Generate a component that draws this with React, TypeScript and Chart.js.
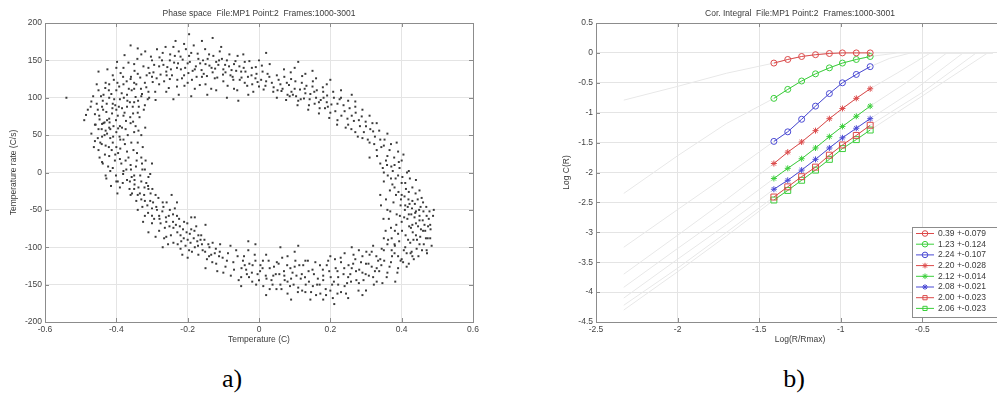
import React, { useEffect, useRef } from 'react';
import { Chart, registerables } from 'chart.js';
Chart.register(...registerables);

const FONT = '"Liberation Sans", Arial, Helvetica, sans-serif';

// ---------------- a) Phase space ----------------
const PHASE_TITLE = 'Phase space  File:MP1 Point:2  Frames:1000-3001';
const PHASE_X_LABEL = 'Temperature (C)';
const PHASE_Y_LABEL = 'Temperature rate (C/s)';
const PHASE_X_TICKS = [-0.6, -0.4, -0.2, 0, 0.2, 0.4, 0.6];
const PHASE_Y_TICKS = [-200, -150, -100, -50, 0, 50, 100, 150, 200];

const RING_UPPER_LEFT = [
  [-0.47,95],[-0.46,78],[-0.45,110],[-0.44,88],[-0.44,65],[-0.43,120],[-0.42,100],[-0.42,72],[-0.41,92],[-0.41,130],
  [-0.40,84],[-0.40,110],[-0.39,62],[-0.39,98],[-0.38,140],[-0.38,118],[-0.38,76],[-0.37,104],[-0.37,88],[-0.36,125],
  [-0.36,66],[-0.35,112],[-0.35,145],[-0.35,94],[-0.34,80],[-0.34,132],[-0.33,102],[-0.33,158],[-0.32,120],[-0.32,90],
  [-0.31,140],[-0.31,108],[-0.30,150],[-0.30,128],[-0.29,97],[-0.48,84],[-0.49,70],[-0.45,135],[-0.43,56],[-0.36,170],
  [-0.34,166],[-0.40,140],[-0.42,118],[-0.54,100],
  [-0.465,102],[-0.452,84],[-0.447,71],[-0.438,96],[-0.431,113],[-0.428,81],[-0.419,67],[-0.414,105],[-0.407,124],[-0.403,90],
  [-0.396,76],[-0.392,115],[-0.388,133],[-0.384,86],[-0.379,100],[-0.373,69],[-0.371,122],[-0.366,147],[-0.362,94],[-0.357,110],
  [-0.353,79],[-0.349,136],[-0.344,118],[-0.341,152],[-0.337,88],[-0.333,127],[-0.328,105],[-0.324,142],[-0.319,162],[-0.316,114],
  [-0.312,98],[-0.307,133],[-0.303,155],[-0.298,121],[-0.294,144],[-0.291,108],[-0.286,165],[-0.455,118],[-0.472,88],[-0.485,77],
  [-0.441,58],[-0.425,138],[-0.398,148],[-0.377,157],[-0.359,128],[-0.346,101],[-0.395,59],[-0.412,79],[-0.436,104],[-0.46,64],
];
const RING_TOP = [
  [-0.28,142],[-0.28,118],[-0.27,160],[-0.26,135],[-0.26,108],[-0.25,150],[-0.25,125],[-0.24,168],[-0.23,140],[-0.23,115],
  [-0.22,155],[-0.21,130],[-0.21,172],[-0.20,146],[-0.20,120],[-0.19,160],[-0.18,138],[-0.18,112],[-0.17,152],[-0.16,128],
  [-0.16,176],[-0.15,145],[-0.15,118],[-0.14,158],[-0.13,134],[-0.12,148],[-0.12,110],[-0.11,162],[-0.10,138],[-0.10,122],
  [-0.09,150],[-0.08,130],[-0.07,145],[-0.07,112],[-0.06,156],[-0.05,135],[-0.04,120],[-0.04,148],[-0.03,104],[-0.02,140],
  [-0.01,126],[0.00,150],[0.00,115],[0.01,135],[0.02,122],[0.03,145],[0.04,108],[0.05,130],[-0.19,102],[-0.24,98],
  [-0.09,100],[-0.13,180],[0.02,160],
  [-0.276,131],[-0.272,150],[-0.266,122],[-0.262,168],[-0.257,141],[-0.253,113],[-0.249,158],[-0.244,130],[-0.238,147],[-0.234,176],
  [-0.229,124],[-0.225,162],[-0.219,138],[-0.214,151],[-0.209,116],[-0.205,165],[-0.198,133],[-0.194,148],[-0.188,124],[-0.183,170],
  [-0.177,142],[-0.172,159],[-0.166,117],[-0.161,137],[-0.157,150],[-0.151,165],[-0.146,129],[-0.139,143],[-0.134,112],[-0.128,156],
  [-0.123,139],[-0.117,127],[-0.112,150],[-0.106,168],[-0.101,131],[-0.095,144],[-0.088,116],[-0.083,158],[-0.077,137],[-0.072,124],
  [-0.066,149],[-0.061,110],[-0.055,142],[-0.049,127],[-0.044,158],[-0.038,135],[-0.033,116],[-0.027,149],[-0.021,130],[-0.016,108],
  [-0.009,141],[-0.004,121],[0.008,143],[0.013,111],[0.024,132],[0.036,120],[-0.196,185],[-0.145,104],[-0.058,96],[-0.225,104],
];
const RING_UPPER_RIGHT = [
  [0.06,118],[0.07,138],[0.08,104],[0.09,125],[0.10,112],[0.10,140],[0.11,96],[0.12,120],[0.13,106],[0.13,132],
  [0.14,90],[0.15,115],[0.16,100],[0.16,126],[0.17,86],[0.18,108],[0.19,94],[0.19,118],[0.20,80],[0.21,100],
  [0.22,70],[0.22,92],[0.23,110],[0.24,82],[0.25,64],[0.25,96],[0.26,76],[0.27,88],[0.27,54],[0.28,70],
  [0.29,84],[0.29,46],[0.30,62],[0.31,76],[0.31,40],[0.32,55],[0.11,148],[0.05,100],[0.20,124],[0.26,104],
  [0.055,124],[0.063,109],[0.071,128],[0.076,97],[0.084,117],[0.089,134],[0.095,104],[0.102,122],[0.108,90],[0.115,111],
  [0.121,129],[0.126,99],[0.133,116],[0.138,84],[0.144,105],[0.151,122],[0.156,92],[0.162,110],[0.168,79],[0.173,97],
  [0.179,114],[0.185,86],[0.191,103],[0.197,73],[0.203,91],[0.208,108],[0.214,82],[0.219,64],[0.226,98],[0.231,76],
  [0.237,90],[0.243,60],[0.248,72],[0.254,86],[0.259,58],[0.266,69],[0.271,80],[0.277,48],[0.283,62],[0.288,75],
  [0.294,54],[0.299,68],[0.305,44],[0.312,58],[0.318,66],[0.323,38],[0.15,136],[0.23,100],[0.086,102],[0.27,95],
];
const RING_RIGHT = [
  [0.33,30],[0.33,66],[0.34,44],[0.34,12],[0.35,36],[0.35,0],[0.36,52],[0.36,22],[0.37,-8],[0.37,38],
  [0.38,10],[0.38,-20],[0.39,28],[0.39,-4],[0.40,-30],[0.40,16],[0.41,-14],[0.41,-44],[0.42,2],[0.42,-56],
  [0.42,-26],[0.43,-70],[0.43,-38],[0.44,-10],[0.44,-84],[0.44,-52],[0.45,-64],[0.45,-96],[0.46,-40],[0.46,-78],
  [0.47,-104],[0.47,-58],[0.48,-88],[0.48,-70],[0.49,-50],[0.40,-66],[0.39,-82],[0.38,-96],[0.41,-100],[0.43,-112],
  [0.36,-50],[0.37,-74],[0.35,-88],[0.34,-30],[0.31,20],[0.45,-24],
  [0.325,48],[0.331,22],[0.337,56],[0.343,34],[0.347,6],[0.352,44],[0.356,16],[0.361,-4],[0.366,30],[0.371,8],
  [0.374,-16],[0.379,20],[0.383,-8],[0.386,40],[0.391,-26],[0.394,6],[0.398,-36],[0.402,-6],[0.405,24],[0.409,-50],
  [0.412,-22],[0.416,-62],[0.419,-36],[0.423,-8],[0.426,-74],[0.429,-48],[0.433,-90],[0.436,-60],[0.439,-28],[0.442,-102],
  [0.446,-72],[0.449,-50],[0.452,-86],[0.456,-34],[0.459,-64],[0.462,-96],[0.466,-78],[0.469,-46],[0.473,-88],[0.476,-62],
  [0.481,-76],[0.484,-98],[0.488,-58],[0.395,-58],[0.385,-70],[0.372,-88],[0.364,-62],[0.355,-78],[0.418,-90],[0.428,-106],
];
const RING_LOWER_RIGHT = [
  [0.42,-122],[0.40,-116],[0.39,-128],[0.38,-108],[0.37,-120],[0.36,-134],[0.35,-104],[0.34,-116],[0.33,-128],[0.32,-140],
  [0.31,-110],[0.30,-122],[0.29,-134],[0.28,-148],[0.27,-116],[0.26,-128],[0.25,-140],[0.24,-152],[0.23,-120],[0.22,-132],
  [0.21,-146],[0.20,-158],[0.19,-124],[0.18,-138],[0.17,-150],[0.16,-164],[0.15,-130],[0.32,-98],[0.28,-104],[0.24,-108],
  [0.20,-112],[0.36,-96],[0.22,-162],[0.18,-170],[0.30,-158],[0.33,-146],
  [0.425,-108],[0.414,-126],[0.406,-104],[0.397,-118],[0.388,-134],[0.381,-98],[0.373,-112],[0.366,-126],[0.358,-140],[0.351,-118],
  [0.344,-102],[0.337,-132],[0.329,-112],[0.322,-150],[0.316,-126],[0.308,-138],[0.301,-106],[0.293,-144],[0.286,-120],[0.279,-158],
  [0.272,-132],[0.265,-110],[0.258,-146],[0.251,-124],[0.244,-162],[0.237,-136],[0.229,-114],[0.222,-150],[0.215,-128],[0.207,-168],
  [0.201,-140],[0.194,-118],[0.187,-156],[0.179,-130],[0.172,-162],[0.165,-142],[0.158,-120],[0.151,-152],[0.144,-170],[0.211,-176],
  [0.25,-168],[0.29,-164],[0.346,-148],[0.382,-146],[0.26,-100],
];
const RING_BOTTOM = [
  [0.14,-146],[0.13,-118],[0.12,-136],[0.11,-154],[0.10,-126],[0.09,-142],[0.08,-112],[0.07,-132],[0.06,-150],[0.05,-120],
  [0.04,-138],[0.03,-156],[0.02,-110],[0.01,-128],[0.00,-144],[-0.01,-118],[-0.02,-134],[-0.03,-104],[-0.04,-124],[-0.05,-140],
  [-0.06,-112],[-0.07,-130],[-0.08,-98],[-0.09,-118],[-0.10,-134],[-0.11,-106],[-0.12,-122],[-0.13,-94],[-0.14,-112],[-0.15,-128],
  [0.06,-100],[-0.01,-96],[0.10,-106],[0.13,-160],[0.08,-162],[-0.05,-152],
  [0.139,-132],[0.131,-150],[0.124,-124],[0.117,-142],[0.109,-160],[0.102,-118],[0.094,-134],[0.087,-152],[0.079,-124],[0.072,-144],
  [0.065,-114],[0.057,-136],[0.049,-156],[0.042,-126],[0.035,-144],[0.027,-118],[0.019,-138],[0.012,-152],[0.004,-124],[-0.004,-136],
  [-0.012,-110],[-0.019,-146],[-0.027,-122],[-0.034,-136],[-0.042,-112],[-0.049,-128],[-0.057,-144],[-0.064,-104],[-0.072,-120],[-0.079,-138],
  [-0.087,-108],[-0.094,-126],[-0.102,-114],[-0.109,-96],[-0.117,-132],[-0.124,-108],[-0.131,-120],[-0.139,-100],[-0.146,-116],[-0.153,-90],
  [0.09,-170],[0.02,-164],[-0.03,-92],[0.11,-98],
];
const RING_LOWER_LEFT = [
  [-0.16,-96],[-0.17,-84],[-0.17,-110],[-0.18,-100],[-0.19,-76],[-0.20,-90],[-0.20,-114],[-0.21,-66],[-0.22,-84],[-0.22,-102],
  [-0.23,-58],[-0.24,-74],[-0.24,-94],[-0.25,-50],[-0.26,-66],[-0.26,-86],[-0.27,-40],[-0.28,-58],[-0.28,-78],[-0.29,-30],
  [-0.30,-48],[-0.30,-68],[-0.31,-22],[-0.32,-38],[-0.32,-58],[-0.33,-12],[-0.34,-30],[-0.34,-50],[-0.35,-4],[-0.35,-22],
  [-0.19,-60],[-0.23,-40],[-0.27,-100],[-0.31,-80],[-0.15,-70],
  [-0.158,-104],[-0.164,-90],[-0.171,-98],[-0.176,-72],[-0.183,-88],[-0.188,-106],[-0.194,-82],[-0.201,-68],[-0.206,-98],[-0.213,-76],
  [-0.218,-92],[-0.224,-62],[-0.229,-80],[-0.236,-48],[-0.241,-66],[-0.247,-84],[-0.253,-58],[-0.259,-40],[-0.264,-74],[-0.271,-52],
  [-0.276,-68],[-0.282,-34],[-0.288,-46],[-0.294,-62],[-0.299,-22],[-0.305,-38],[-0.311,-54],[-0.316,-14],[-0.322,-30],[-0.327,-46],
  [-0.333,-4],[-0.338,-20],[-0.344,-38],[-0.349,-10],[-0.356,-28],[-0.362,-12],[-0.215,-110],[-0.255,-96],[-0.29,-86],[-0.325,-66],
  [-0.18,-60],[-0.245,-30],
];
const RING_LEFT = [
  [-0.36,10],[-0.37,-10],[-0.37,28],[-0.38,2],[-0.38,44],[-0.39,18],[-0.39,-20],[-0.40,34],[-0.40,54],[-0.41,6],
  [-0.41,40],[-0.42,22],[-0.42,60],[-0.43,36],[-0.43,-4],[-0.44,48],[-0.44,14],[-0.45,30],[-0.45,58],[-0.46,42],
  [-0.33,20],[-0.34,40],[-0.32,4],[-0.35,54],[-0.36,-30],[-0.31,-6],[-0.30,12],[-0.47,52],[-0.40,-12],[-0.33,50],
  [-0.366,20],[-0.372,4],[-0.376,38],[-0.382,-14],[-0.386,12],[-0.391,48],[-0.395,26],[-0.401,-4],[-0.404,16],[-0.408,62],
  [-0.413,30],[-0.417,46],[-0.423,8],[-0.426,52],[-0.432,24],[-0.436,66],[-0.441,38],[-0.447,20],[-0.452,46],[-0.458,64],
  [-0.463,34],[-0.345,8],[-0.352,30],[-0.357,-6],[-0.338,56],[-0.326,34],[-0.318,16],[-0.384,60],[-0.415,-18],[-0.426,70],
  [-0.397,-28],[-0.353,68],
];
const RING_DENSE_LEFT = [
  [-0.455,92],[-0.448,76],[-0.443,102],[-0.437,84],[-0.433,67],[-0.427,92],[-0.421,110],[-0.417,58],[-0.411,86],[-0.406,98],
  [-0.401,70],[-0.397,120],[-0.393,88],[-0.389,44],[-0.385,106],[-0.381,128],[-0.377,80],[-0.374,58],[-0.369,96],[-0.365,112],
  [-0.361,74],[-0.358,40],[-0.354,88],[-0.35,120],[-0.346,62],[-0.342,26],[-0.339,96],[-0.335,74],[-0.331,112],[-0.327,4],
  [-0.323,84],[-0.319,60],[-0.315,130],[-0.311,-18],[-0.308,100],[-0.305,-2],[-0.445,40],[-0.438,12],[-0.433,50],[-0.428,-8],
  [-0.421,34],[-0.417,2],[-0.409,48],[-0.403,24],[-0.396,-12],[-0.389,32],[-0.381,-2],[-0.374,16],[-0.368,50],[-0.363,-22],
  [-0.359,4],[-0.349,-16],[-0.343,16],[-0.334,-28],[-0.328,12],
];
const RING_DENSE_RIGHT = [
  [0.342,-44],[0.349,-62],[0.356,-36],[0.362,-90],[0.368,-52],[0.372,-104],[0.377,-40],[0.381,-78],[0.386,-56],[0.39,-112],
  [0.393,-92],[0.397,-44],[0.401,-78],[0.404,-120],[0.407,-60],[0.411,-84],[0.414,-108],[0.417,-46],[0.421,-72],[0.424,-94],
  [0.427,-56],[0.431,-80],[0.434,-116],[0.437,-42],[0.44,-68],[0.443,-90],[0.447,-112],[0.45,-58],[0.454,-76],[0.457,-104],
  [0.461,-52],[0.464,-70],[0.468,-88],[0.471,-108],[0.474,-72],[0.478,-52],[0.35,-12],[0.359,10],[0.367,-24],[0.375,2],
  [0.384,-30],[0.392,14],[0.4,-14],[0.408,-32],[0.415,0],[0.422,-42],[0.43,-20],[0.438,-54],[0.445,-36],[0.453,-46],
];
const RING_DENSE_BOTTOM = [
  [-0.045,-118],[-0.036,-130],[-0.028,-140],[-0.018,-124],[-0.008,-150],[0.003,-132],[0.011,-118],[0.021,-142],[0.03,-128],[0.038,-150],
  [0.047,-136],[0.055,-122],[0.063,-156],[0.071,-138],[0.08,-146],[0.088,-128],[0.097,-150],[0.105,-138],[0.113,-124],[0.121,-158],
  [0.129,-140],[0.137,-118],[0.146,-160],[0.154,-136],[0.163,-150],[0.171,-124],[0.18,-144],[0.188,-164],[0.197,-132],[0.205,-150],
  [0.213,-116],[0.222,-140],[0.23,-160],[0.239,-128],[0.247,-148],[0.256,-136],[0.264,-122],[0.273,-144],[0.281,-130],[0.29,-112],
  [0.299,-136],[0.307,-122],[0.316,-106],[0.325,-132],[0.334,-118],[0.343,-124],
];
const RING_DENSE_TOP = [
  [-0.296,134],[-0.287,126],[-0.279,154],[-0.268,144],[-0.259,130],[-0.247,138],[-0.236,156],[-0.227,146],[-0.216,126],[-0.207,140],
  [-0.196,156],[-0.186,136],[-0.175,128],[-0.165,146],[-0.155,132],[-0.144,152],[-0.133,140],[-0.124,126],[-0.114,144],[-0.104,152],
  [-0.094,134],[-0.084,142],[-0.074,128],[-0.064,136],[-0.054,124],[-0.043,140],[-0.031,128],[-0.019,118],[-0.007,132],[0.006,124],
  [0.018,116],[0.029,128],[0.041,114],[0.052,110],[0.066,112],[0.078,120],[0.091,108],[0.104,102],[0.117,98],[0.128,112],
  [0.142,98],[0.155,108],[0.168,94],[0.181,100],[0.193,88],
];
const RING_DENSE_LOWER_LEFT = [
  [-0.112,-112],[-0.121,-102],[-0.134,-110],[-0.142,-96],[-0.151,-106],[-0.162,-84],[-0.173,-92],[-0.181,-78],[-0.192,-94],[-0.203,-80],
  [-0.211,-88],[-0.222,-72],[-0.233,-70],[-0.241,-56],[-0.251,-72],[-0.261,-60],[-0.268,-46],[-0.279,-62],[-0.286,-50],[-0.297,-40],
  [-0.304,-28],[-0.313,-44],[-0.321,-20],[-0.33,-36],[-0.228,-96],[-0.196,-104],[-0.266,-88],[-0.3,-58],
];

// ---------------- b) Correlation integral ----------------
const COR_TITLE = 'Cor. Integral  File:MP1 Point:2  Frames:1000-3001';
const COR_X_LABEL = 'Log(R/Rmax)';
const COR_Y_LABEL = 'Log C(R)';
const COR_X_TICKS = [-2.5, -2, -1.5, -1, -0.5, 0];
const COR_Y_TICKS = [-4.5, -4, -3.5, -3, -2.5, -2, -1.5, -1, -0.5, 0, 0.5];

const FIT_X = [-1.41, -1.325, -1.24, -1.155, -1.07, -0.99, -0.905, -0.82];
const FIT_Y1 = [-0.17, -0.11, -0.06, -0.03, -0.01, 0, 0, 0];
const FIT_Y2 = [-0.76, -0.61, -0.47, -0.35, -0.25, -0.17, -0.11, -0.06];
const FIT_Y3 = [-1.48, -1.32, -1.11, -0.89, -0.68, -0.50, -0.36, -0.23];
const FIT_Y4 = [-1.85, -1.66, -1.49, -1.30, -1.10, -0.93, -0.76, -0.60];
const FIT_Y5 = [-2.10, -1.93, -1.77, -1.59, -1.40, -1.23, -1.06, -0.89];
const FIT_Y6 = [-2.28, -2.13, -1.96, -1.78, -1.59, -1.42, -1.26, -1.10];
const FIT_Y7 = [-2.41, -2.24, -2.07, -1.91, -1.71, -1.54, -1.38, -1.21];
const FIT_Y8 = [-2.46, -2.30, -2.13, -1.96, -1.78, -1.60, -1.45, -1.29];
const FIT_LABELS = [
  '0.39 +-0.079', '1.23 +-0.124', '2.24 +-0.107', '2.20 +-0.028',
  '2.12 +-0.014', '2.08 +-0.021', '2.00 +-0.023', '2.06 +-0.023',
];

// full curves (grey) outside the fitted range
const LOW_X = [-2.33, -2.0, -1.7];
const LOW_Y1 = [-0.79, -0.56, -0.34];
const LOW_Y2 = [-2.35, -1.72, -1.18];
const LOW_Y3 = [-3.25, -2.62, -2.05];
const LOW_Y4 = [-3.70, -3.05, -2.45];
const LOW_Y5 = [-3.92, -3.27, -2.69];
const LOW_Y6 = [-4.10, -3.45, -2.87];
const LOW_Y7 = [-4.22, -3.60, -3.00];
const LOW_Y8 = [-4.30, -3.66, -3.06];
const HIGH_1 = [[-0.07, 0]];
const HIGH_2 = [[-0.65, 0], [-0.07, 0]];
const HIGH_3 = [[-0.7, -0.09], [-0.57, 0], [-0.07, 0]];
const HIGH_4 = [[-0.65, -0.33], [-0.45, 0], [-0.07, 0]];
const HIGH_5 = [[-0.6, -0.5], [-0.35, 0], [-0.07, 0]];
const HIGH_6 = [[-0.55, -0.62], [-0.25, 0], [-0.07, 0]];
const HIGH_7 = [[-0.5, -0.66], [-0.17, 0], [-0.07, 0]];
const HIGH_8 = [[-0.5, -0.72], [-0.10, 0], [-0.07, 0]];

// styles
const SERIES_COLORS = ['#dc4a4a', '#3ccf3c', '#4a4ad4', '#dc4a4a', '#3ccf3c', '#4a4ad4', '#dc4a4a', '#3ccf3c'];
const SERIES_MARKERS = ['circle', 'circle', 'circle', 'star', 'star', 'star', 'rect', 'rect'];
const GREY_CURVE = '#e8e8e8';

const fmt = (v: number) => String(Math.round(v * 100) / 100);

function drawMarker(ctx: CanvasRenderingContext2D, style: string, x: number, y: number, r: number) {
  ctx.beginPath();
  if (style === 'circle') {
    ctx.arc(x, y, r, 0, Math.PI * 2);
  } else if (style === 'rect') {
    ctx.rect(x - r * 0.75, y - r * 0.75, r * 1.5, r * 1.5);
  } else {
    for (let k = 0; k < 4; k++) {
      const a = (k * Math.PI) / 4;
      ctx.moveTo(x - Math.cos(a) * r, y - Math.sin(a) * r);
      ctx.lineTo(x + Math.cos(a) * r, y + Math.sin(a) * r);
    }
  }
  ctx.stroke();
}

const framePlugin = {
  id: 'frame',
  afterDraw(chart: any, _args: any, o: any) {
    const { ctx, chartArea: a } = chart;
    ctx.save();
    ctx.strokeStyle = '#8c8c8c';
    ctx.lineWidth = 1;
    ctx.strokeRect(Math.round(a.left) + 0.5, Math.round(a.top) + 0.5, Math.round(a.right - a.left), Math.round(a.bottom - a.top));
    const xs = chart.scales.x, ys = chart.scales.y;
    ctx.beginPath();
    xs.ticks.forEach((t: any) => {
      const px = Math.round(xs.getPixelForValue(t.value)) + 0.5;
      ctx.moveTo(px, a.bottom); ctx.lineTo(px, a.bottom - 4);
      ctx.moveTo(px, a.top); ctx.lineTo(px, a.top + 4);
    });
    ys.ticks.forEach((t: any) => {
      const py = Math.round(ys.getPixelForValue(t.value)) + 0.5;
      ctx.moveTo(a.left, py); ctx.lineTo(a.left + 4, py);
      ctx.moveTo(a.right, py); ctx.lineTo(a.right - 4, py);
    });
    ctx.stroke();
    ctx.fillStyle = '#3a3a3a';
    ctx.font = `8.5px ${FONT}`;
    ctx.textAlign = 'center';
    ctx.textBaseline = 'middle';
    const cx = (a.left + a.right) / 2;
    ctx.fillText(o.title, cx, a.top - 9);
    ctx.fillText(o.xTitle, cx, a.bottom + 18);
    ctx.save();
    ctx.translate(o.yTitleX, (a.top + a.bottom) / 2);
    ctx.rotate(-Math.PI / 2);
    ctx.fillText(o.yTitle, 0, 0);
    ctx.restore();
    if (o.legend) {
      const L = o.legend;
      ctx.fillStyle = '#fff';
      ctx.fillRect(L.x, L.y, L.w, L.h);
      ctx.strokeStyle = '#8c8c8c';
      ctx.strokeRect(L.x + 0.5, L.y + 0.5, L.w, L.h);
      ctx.textAlign = 'left';
      L.labels.forEach((lab: string, i: number) => {
        const y = L.y + 6.5 + i * 10.7;
        ctx.strokeStyle = L.colors[i];
        ctx.lineWidth = 1;
        ctx.beginPath();
        ctx.moveTo(L.x + 4, y); ctx.lineTo(L.x + 22, y);
        ctx.stroke();
        drawMarker(ctx, L.markers[i], L.x + 13, y, 2.8);
        ctx.fillStyle = '#3a3a3a';
        ctx.fillText(lab, L.x + 26, y);
      });
    }
    ctx.restore();
  },
};

function axis(min: number, max: number, ticks: number[], size: number, isX: boolean) {
  return {
    type: 'linear',
    min, max,
    afterBuildTicks: (s: any) => { s.ticks = ticks.map((v) => ({ value: v })); },
    afterFit: (s: any) => { if (isX) s.height = size; else s.width = size; },
    grid: { color: '#e4e4e4', lineWidth: 1, drawTicks: false },
    border: { display: false },
    ticks: {
      padding: 3,
      color: '#444',
      font: { family: FONT, size: 8.5 },
      callback: (v: number) => fmt(v),
      maxRotation: 0,
      autoSkip: false,
    },
  };
}

export default function App() {
  const leftRef = useRef<HTMLCanvasElement>(null);
  const rightRef = useRef<HTMLCanvasElement>(null);

  useEffect(() => {
    const phase = [
      ...RING_UPPER_LEFT, ...RING_TOP, ...RING_UPPER_RIGHT, ...RING_RIGHT,
      ...RING_LOWER_RIGHT, ...RING_BOTTOM, ...RING_LOWER_LEFT, ...RING_LEFT,
      ...RING_DENSE_LEFT, ...RING_DENSE_RIGHT, ...RING_DENSE_BOTTOM, ...RING_DENSE_TOP, ...RING_DENSE_LOWER_LEFT,
    ].map(([x, y]) => ({ x, y }));

    const c1 = new Chart(leftRef.current!, {
      type: 'scatter',
      data: {
        datasets: [{
          data: phase,
          pointStyle: 'rect',
          pointRadius: 1.4,
          pointBackgroundColor: '#3a3a3a',
          pointBorderWidth: 0,
        }],
      },
      options: {
        animation: false,
        responsive: false,
        maintainAspectRatio: false,
        layout: { padding: { left: 0, top: 23, right: 24, bottom: 0 } },
        plugins: {
          legend: { display: false },
          tooltip: { enabled: false },
          frame: { title: PHASE_TITLE, xTitle: PHASE_X_LABEL, yTitle: PHASE_Y_LABEL, yTitleX: 14 },
        } as any,
        scales: {
          x: axis(-0.6, 0.6, PHASE_X_TICKS, 38, true),
          y: axis(-200, 200, PHASE_Y_TICKS, 45, false),
        } as any,
      },
      plugins: [framePlugin],
    });

    const fits = [FIT_Y1, FIT_Y2, FIT_Y3, FIT_Y4, FIT_Y5, FIT_Y6, FIT_Y7, FIT_Y8];
    const lows = [LOW_Y1, LOW_Y2, LOW_Y3, LOW_Y4, LOW_Y5, LOW_Y6, LOW_Y7, LOW_Y8];
    const highs = [HIGH_1, HIGH_2, HIGH_3, HIGH_4, HIGH_5, HIGH_6, HIGH_7, HIGH_8];

    const colored = fits.map((ys, i) => ({
      data: FIT_X.map((x, k) => ({ x, y: ys[k] })),
      showLine: true,
      borderColor: SERIES_COLORS[i],
      borderWidth: 1,
      pointStyle: SERIES_MARKERS[i],
      pointRadius: SERIES_MARKERS[i] === 'rect' ? 4.2 : 3,
      pointBorderColor: SERIES_COLORS[i],
      pointBackgroundColor: 'rgba(255,255,255,0)',
      pointBorderWidth: 1,
      order: 0,
    }));
    const greys = fits.map((ys, i) => ({
      data: [
        ...LOW_X.map((x, k) => ({ x, y: lows[i][k] })),
        ...FIT_X.map((x, k) => ({ x, y: ys[k] })),
        ...highs[i].map(([x, y]) => ({ x, y })),
      ],
      showLine: true,
      borderColor: GREY_CURVE,
      borderWidth: 1,
      pointRadius: 0,
      order: 1,
    }));

    const c2 = new Chart(rightRef.current!, {
      type: 'scatter',
      data: { datasets: [...colored, ...greys] as any },
      options: {
        animation: false,
        responsive: false,
        maintainAspectRatio: false,
        layout: { padding: { left: 0, top: 23, right: 16, bottom: 0 } },
        plugins: {
          legend: { display: false },
          tooltip: { enabled: false },
          frame: {
            title: COR_TITLE, xTitle: COR_X_LABEL, yTitle: COR_Y_LABEL, yTitleX: 67,
            legend: { x: 412, y: 227, w: 100, h: 90, labels: FIT_LABELS, colors: SERIES_COLORS, markers: SERIES_MARKERS },
          },
        } as any,
        scales: {
          x: axis(-2.5, 0, COR_X_TICKS, 38, true),
          y: axis(-4.5, 0.5, COR_Y_TICKS, 96, false),
        } as any,
      },
      plugins: [framePlugin],
    });

    return () => { c1.destroy(); c2.destroy(); };
  }, []);

  const capStyle: React.CSSProperties = {
    position: 'absolute', width: 60, textAlign: 'center',
    fontFamily: '"Liberation Serif", "Times New Roman", serif', fontSize: 26, lineHeight: '26px', color: '#000',
  };

  return (
    <div style={{ position: 'fixed', left: 0, top: 0, width: 997, height: 396, background: '#fff', overflow: 'hidden' }}>
      <canvas ref={leftRef} width={497} height={360} style={{ position: 'absolute', left: 0, top: 0, width: 497, height: 360 }} />
      <canvas ref={rightRef} width={520} height={360} style={{ position: 'absolute', left: 500, top: 0, width: 520, height: 360 }} />
      <div style={{ ...capStyle, left: 202, top: 366 }}>a)</div>
      <div style={{ ...capStyle, left: 764, top: 366 }}>b)</div>
    </div>
  );
}
